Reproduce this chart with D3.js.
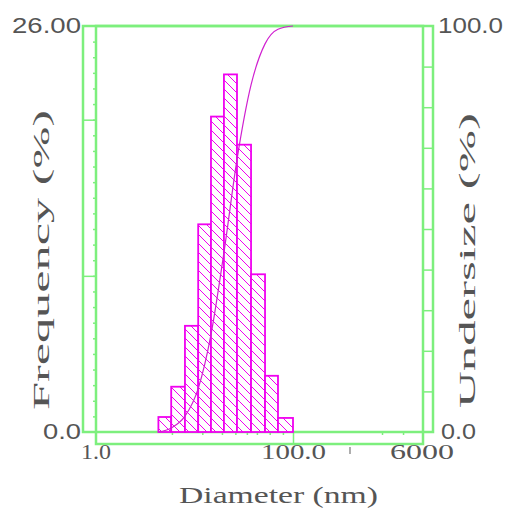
<!DOCTYPE html>
<html>
<head>
<meta charset="utf-8">
<script src="https://cdn.jsdelivr.net/npm/d3@7"></script>
<style>
  html, body { margin: 0; padding: 0; background: #fff; }
  svg { display: block; }
</style>
</head>
<body>
<div id="grafica"></div>
<script>
// bin edges (nm) and frequency per bin (%)
const binEdges = [4.3, 5.8, 8.0, 10.9, 14.7, 19.9, 27.0, 37.5, 52.0, 70.4, 100];
const frequency = [0.96, 2.9, 6.8, 13.3, 20.2, 22.9, 18.4, 10.1, 3.6, 0.9];
// undersize (%) at each bin edge
const undersize = [0, 1.0, 3.9, 10.7, 24.0, 44.2, 67.1, 85.5, 95.6, 99.2, 100];

const xTickLabels = ["1.0", "100.0", "6000"];
const xMinorTicks = [5.9, 12, 19, 26, 34, 43, 58, 79, 1650, 3200];
const yLabels = ["0.0", "26.00"];
const y2Labels = ["0.0", "100.0"];

const width = 507;
const height = 516;
const green = "#7def7d";
const magenta = "#f000f0";
const textCol = "#555";

const svg = d3.select("#grafica").append("svg")
  .attr("width", width)
  .attr("height", height);

const defs = svg.append("defs");
const pat = defs.append("pattern")
  .attr("id", "hatch")
  .attr("patternUnits", "userSpaceOnUse")
  .attr("width", 9)
  .attr("height", 9);
pat.append("rect").attr("width", 9).attr("height", 9).attr("fill", "#fff");
pat.append("path")
  .attr("d", "M0,0 L9,9 M-1,8 L1,10 M8,-1 L10,1")
  .attr("stroke", magenta)
  .attr("stroke-width", 1);

const x = d3.scaleLog().domain([1, 100, 6000]).range([96, 293, 423]);
const y = d3.scaleLinear().domain([0, 26]).range([432, 26]);
const y2 = d3.scaleLinear().domain([0, 100]).range([432, 26]);

// frames
svg.append("rect")
  .attr("x", 83).attr("y", 26).attr("width", 433 - 83).attr("height", 432 - 26)
  .attr("fill", "none").attr("stroke", green).attr("stroke-width", 2.5);
svg.append("rect")
  .attr("x", 96).attr("y", 26).attr("width", 423 - 96).attr("height", 444 - 26)
  .attr("fill", "none").attr("stroke", green).attr("stroke-width", 2.5);

// left axis ticks
const yMajor = svg.append("g").attr("transform", "translate(96,0)")
  .call(d3.axisLeft(y).tickValues([10, 20]).tickSize(13).tickFormat(""));
const yMinor = svg.append("g").attr("transform", "translate(96,0)")
  .call(d3.axisLeft(y).tickValues(d3.range(1, 26)).tickSize(3).tickFormat(""));
// right axis ticks
const y2Ticks = svg.append("g").attr("transform", "translate(423,0)")
  .call(d3.axisRight(y2).tickValues(d3.range(10, 100, 10)).tickSize(10).tickFormat(""));
// bottom axis ticks
const xMajor = svg.append("g").attr("transform", "translate(0,432)")
  .call(d3.axisBottom(x).tickValues([100]).tickSize(12).tickFormat(""));
const xMinor = svg.append("g").attr("transform", "translate(0,432)")
  .call(d3.axisBottom(x).tickValues(xMinorTicks).tickSize(3).tickFormat(""));

[yMajor, yMinor, y2Ticks, xMajor, xMinor].forEach((g) => {
  g.select(".domain").remove();
  g.selectAll("line").attr("stroke", green).attr("stroke-width", 1.5);
});

// bars
const bins = frequency.map((f, i) => ({ x0: binEdges[i], x1: binEdges[i + 1], f: f }));
svg.append("g").selectAll("rect").data(bins).enter().append("rect")
  .attr("x", (d) => x(d.x0))
  .attr("y", (d) => y(d.f))
  .attr("width", (d) => x(d.x1) - x(d.x0))
  .attr("height", (d) => y(0) - y(d.f))
  .attr("fill", "url(#hatch)")
  .attr("stroke", magenta)
  .attr("stroke-width", 1.8);

// undersize curve
const line = d3.line()
  .x((d, i) => x(binEdges[i]))
  .y((d) => y2(d))
  .curve(d3.curveMonotoneX);
svg.append("path")
  .datum(undersize)
  .attr("d", line)
  .attr("fill", "none")
  .attr("stroke", "#d020d0")
  .attr("stroke-width", 1.2);

// labels (stretched to the widths seen in the reference)
function label(txt, px, py, len, opts) {
  const t = svg.append("text")
    .attr("x", px).attr("y", py)
    .attr("font-family", opts.family)
    .attr("font-size", opts.size)
    .attr("fill", textCol)
    .attr("textLength", len)
    .attr("lengthAdjust", "spacingAndGlyphs")
    .text(txt);
  if (opts.rotate) t.attr("transform", `rotate(-90,${px},${py})`);
  return t;
}
const sans = { family: "Liberation Sans, Arial, sans-serif", size: 22 };
const serif = { family: "Liberation Serif, Times New Roman, serif", size: 21 };
const title = { family: "Liberation Serif, Times New Roman, serif", size: 24 };

label(yLabels[1], 12, 33, 69, sans);
label(yLabels[0], 43, 439, 38, sans);
label(y2Labels[1], 438, 33, 65, sans);
label(y2Labels[0], 441, 439, 35, sans);

label(xTickLabels[0], 81, 459, 30, serif);
label(xTickLabels[1], 261, 459, 65, serif);
label(xTickLabels[2], 390, 459, 64, serif);
svg.append("line")
  .attr("x1", 350).attr("x2", 350).attr("y1", 447).attr("y2", 454)
  .attr("stroke", "#777").attr("stroke-width", 1.2);

label("Diameter (nm)", 179, 503, 199, title);
label("Frequency (%)", 49, 410, 300, Object.assign({ rotate: true }, title));
label("Undersize (%)", 475, 408, 295, Object.assign({ rotate: true }, title));
</script>
</body>
</html>
